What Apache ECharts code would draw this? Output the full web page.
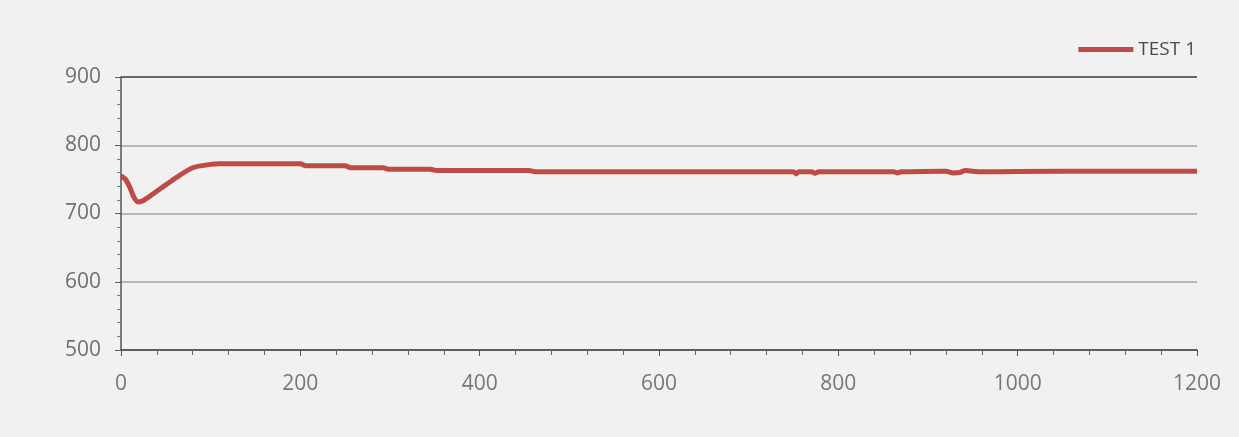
<!DOCTYPE html>
<html>
<head>
<meta charset="utf-8">
<script src="https://cdn.jsdelivr.net/npm/echarts@6/dist/echarts.min.js"></script>
<style>
html,body{margin:0;padding:0;background:#f1f1f1;}
#c{width:1239px;height:437px;}
</style>
</head>
<body>
<div id="c"></div>
<script>
var seriesName = 'TEST 1';
var timeValues = [0, 5, 10, 14, 19, 25, 36, 50, 62, 80, 100, 110, 150, 200, 206, 250, 256, 292, 298, 345, 352, 455, 462, 600, 750, 753, 756, 770, 774, 778, 862, 866, 870, 920, 928, 935, 942, 950, 958, 1000, 1100, 1200];
var testValues = [755, 750, 738, 725, 717, 719, 729, 742, 753, 767, 772, 773, 773, 773, 770, 770, 767, 767, 765, 765, 763, 763, 761, 761, 761, 758, 761, 761, 759, 761, 761, 759.5, 761, 762, 759.5, 760, 763, 762, 761, 761.5, 762, 762];
var xTicks = [0, 200, 400, 600, 800, 1000, 1200];
var yTicks = [500, 600, 700, 800, 900];

var chart = echarts.init(document.getElementById('c'));
var data = timeValues.map(function (t, i) { return [t, testValues[i]]; });
var font = '"Open Sans", "Noto Sans", sans-serif';
chart.setOption({
  backgroundColor: '#f1f1f1',
  animation: false,
  grid: { left: 121, right: 42, top: 77, bottom: 87 },
  legend: {
    data: [{ name: seriesName, icon: 'rect' }],
    right: 38, top: 35,
    itemWidth: 55, itemHeight: 5, itemGap: 2,
    textStyle: { fontFamily: font, fontSize: 19, color: '#4a4a4a' }
  },
  xAxis: {
    type: 'value', min: xTicks[0], max: xTicks[xTicks.length - 1], interval: 200,
    axisLine: { show: true, lineStyle: { color: '#555', width: 1.5 } },
    axisTick: { show: true, length: 6, lineStyle: { color: '#555' } },
    minorTick: { show: true, splitNumber: 5, length: 5, lineStyle: { color: '#666' } },
    splitLine: { show: false },
    axisLabel: { fontFamily: font, fontSize: 21, color: '#777', margin: 24, formatter: function (v) { return String(v); } }
  },
  yAxis: {
    type: 'value', min: yTicks[0], max: yTicks[yTicks.length - 1], interval: 100,
    axisLine: { show: true, lineStyle: { color: '#555', width: 1.5 } },
    axisTick: { show: true, length: 6, lineStyle: { color: '#555' } },
    minorTick: { show: true, splitNumber: 5, length: 4, lineStyle: { color: '#777' } },
    splitLine: { show: true, lineStyle: { color: ['#555', '#a3a3a3', '#a3a3a3', '#a3a3a3', '#3a3a3a'], width: 1.5 } },
    axisLabel: { fontFamily: font, fontSize: 21, color: '#707070', margin: 20 }
  },
  series: [{
    name: seriesName,
    type: 'line',
    data: data,
    smooth: 0.3,
    showSymbol: false,
    symbol: 'none',
    lineStyle: { color: '#bf4b49', width: 5 },
    itemStyle: { color: '#bf4b49' }
  }]
});
</script>
</body>
</html>
